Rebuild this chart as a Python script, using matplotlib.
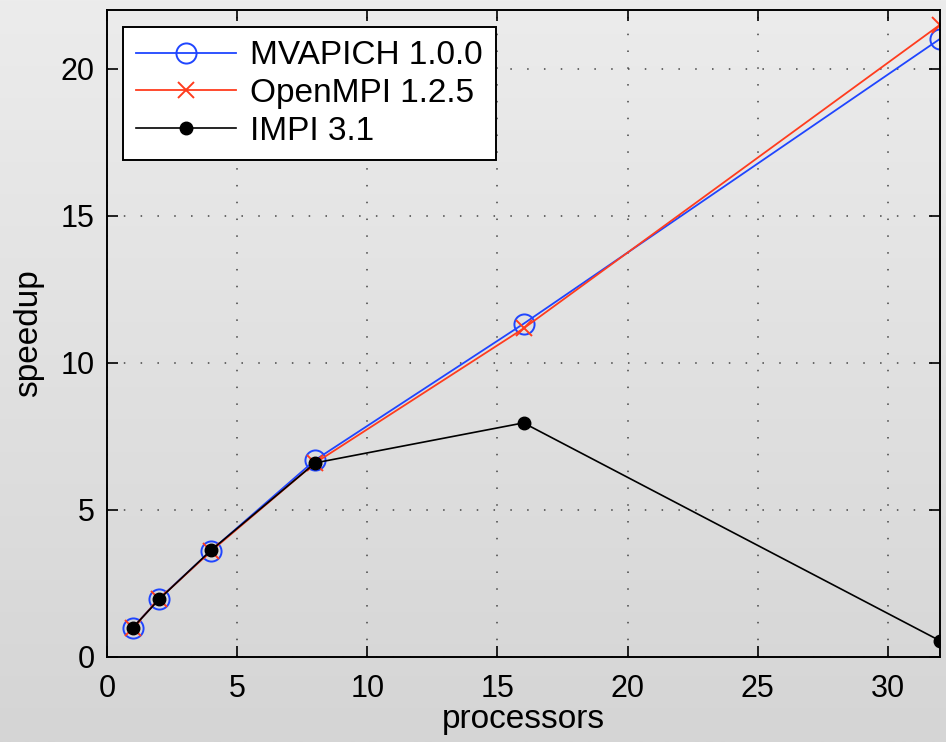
import numpy as np
import matplotlib
matplotlib.use("Agg")
import matplotlib.pyplot as plt

procs = [1, 2, 4, 8, 16, 32]
mvapich = [1.0, 1.98, 3.62, 6.70, 11.33, 21.02]
openmpi = [1.0, 1.97, 3.60, 6.60, 11.17, 21.50]
impi = [1.0, 1.96, 3.63, 6.60, 7.96, 0.55]
series_names = ["MVAPICH 1.0.0", "OpenMPI 1.2.5", "IMPI 3.1"]
xticks = [0, 5, 10, 15, 20, 25, 30]
yticks = [0, 5, 10, 15, 20]

plt.rcParams['font.family'] = ['Liberation Sans', 'DejaVu Sans']

fig = plt.figure(figsize=(9.46, 7.42), dpi=100)

# gradient background
bg = fig.add_axes([0, 0, 1, 1], zorder=-10)
grad = np.linspace(0, 1, 256).reshape(-1, 1)
top = np.array([236, 236, 236]) / 255.0
bot = np.array([213, 213, 213]) / 255.0
img = top[None, None, :] * (1 - grad[:, :, None]) + bot[None, None, :] * grad[:, :, None]
bg.imshow(img, aspect='auto', extent=[0, 1, 0, 1])
bg.set_axis_off()

ax = fig.add_axes([0.1131, 0.1146, 0.8806, 0.8719])
ax.patch.set_alpha(0)

ax.plot(procs, mvapich, color='#1f45ff', lw=1.3, marker='o', ms=14.5,
        mfc='none', mec='#1f45ff', mew=1.4, label=series_names[0])
ax.plot(procs, openmpi, color='#ff3c1e', lw=1.3, marker='x', ms=11,
        mew=1.4, label=series_names[1])
ax.plot(procs, impi, color='black', lw=1.2, marker='o', ms=9,
        mfc='black', mec='black', label=series_names[2])

ax.set_xlim(0, 32)
ax.set_ylim(0, 22)
ax.set_xticks(xticks)
ax.set_yticks(yticks)
ax.grid(True, color='#444444', linestyle=(0, (1, 10)), lw=1.1)
ax.tick_params(direction='in', length=8, width=1.2, top=True, right=True,
               labelsize=22, colors='black')
ax.tick_params(axis='x', pad=12)
ax.tick_params(axis='y', pad=9)
for s in ax.spines.values():
    s.set_linewidth(1.4)
    s.set_color('black')

ax.set_xlabel('processors', fontsize=24, labelpad=0)
ax.set_ylabel('speedup', fontsize=24, labelpad=12)

leg = ax.legend(loc='upper left', fontsize=24, handlelength=3.0,
                bbox_to_anchor=(0.0192, 0.9737), borderaxespad=0,
                fancybox=False, framealpha=1, edgecolor='black',
                labelspacing=0.2, borderpad=0.4, handletextpad=0.4)
leg.get_frame().set_linewidth(1.4)

fig.savefig('out.png', dpi=100)
